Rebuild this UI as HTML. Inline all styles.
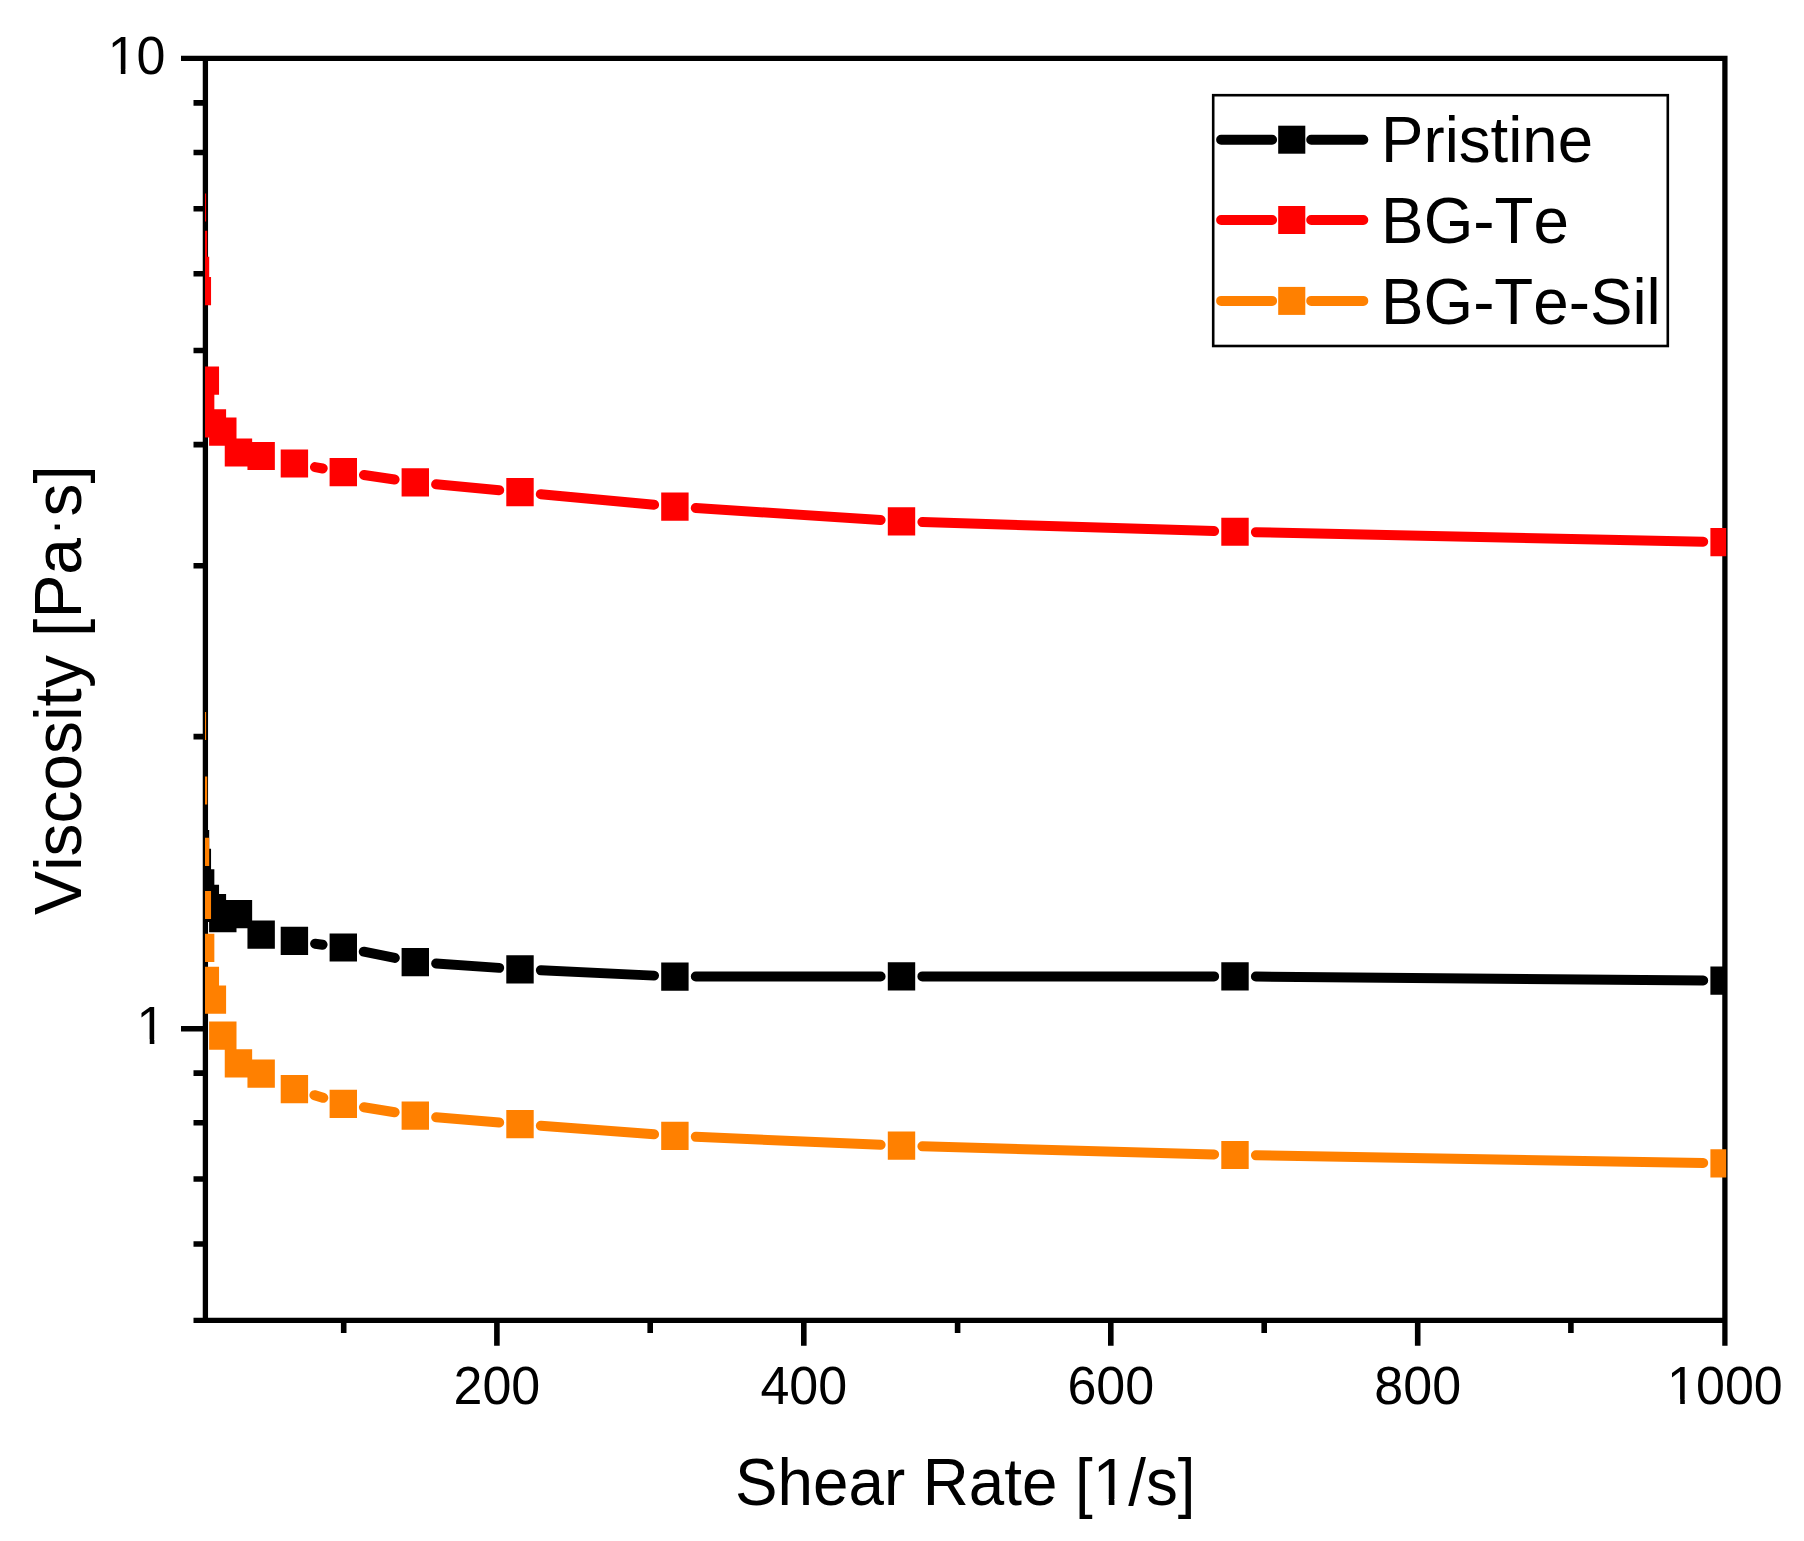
<!DOCTYPE html>
<html lang="en"><head><meta charset="utf-8"><title>Viscosity vs Shear Rate</title>
<style>html,body{margin:0;padding:0;background:#fff}svg{display:block}text{font-kerning:none;font-family:"Liberation Sans",sans-serif;fill:#000}</style></head><body>
<svg width="1804" height="1541" viewBox="0 0 1804 1541">
<rect width="1804" height="1541" fill="#fff"/>
<defs><clipPath id="c"><rect x="205" y="40" width="1521.2" height="1300"/></clipPath></defs>
<path d="M181 58.45H1724.90M1724.90 55.80V1345.7M205.40 58.45V1323.10M193.5 1320.45H1724.90" fill="none" stroke="#000" stroke-width="5.3"/>
<path d="M181.00 1028.70H205.40M193.50 102.89H205.40M193.50 152.52H205.40M193.50 208.79H205.40M193.50 273.74H205.40M193.50 350.56H205.40M193.50 444.58H205.40M193.50 565.80H205.40M193.50 736.64H205.40M193.50 1073.09H205.40M193.50 1122.72H205.40M193.50 1178.99H205.40M193.50 1243.94H205.40M496.90 1320.45V1345.70M803.80 1320.45V1345.70M1110.80 1320.45V1345.70M1417.70 1320.45V1345.70M343.70 1320.45V1333.00M650.20 1320.45V1333.00M957.60 1320.45V1333.00M1264.20 1320.45V1333.00M1570.90 1320.45V1333.00" fill="none" stroke="#000" stroke-width="5.6"/>
<g clip-path="url(#c)">
<path d="M315.11 943.70L322.59 944.70M363.78 951.65L394.82 957.95M436.15 963.53L499.15 967.87M540.88 970.28L654.02 975.62M695.80 976.58L880.60 976.42M922.40 976.40L1214.10 976.40M1255.90 976.58L1703.20 980.52" fill="none" stroke="#000" stroke-width="10" stroke-linecap="round"/>
<path d="M181.80 829.90h27.40v28.20h-27.40zM183.65 848.70h27.40v28.20h-27.40zM186.95 869.30h27.40v28.20h-27.40zM191.65 884.80h27.40v28.20h-27.40zM198.70 893.90h27.40v28.20h-27.40zM209.10 904.10h27.40v28.20h-27.40zM224.75 900.10h27.40v28.20h-27.40zM247.45 920.50h27.40v28.20h-27.40zM280.70 926.80h27.40v28.20h-27.40zM329.60 933.40h27.40v28.20h-27.40zM401.60 948.00h27.40v28.20h-27.40zM506.30 955.20h27.40v28.20h-27.40zM661.20 962.50h27.40v28.20h-27.40zM887.80 962.30h27.40v28.20h-27.40zM1221.30 962.30h27.40v28.20h-27.40zM1710.40 966.60h27.40v28.20h-27.40z" fill="#000"/>
<path d="M197.97 311.99L200.03 381.11M208.75 401.27L209.00 402.78M314.98 467.12L322.72 468.48M363.99 475.06L394.61 479.44M436.11 484.35L499.19 490.25M540.81 494.15L654.09 504.75M695.76 508.05L880.64 520.05M922.39 522.05L1214.11 531.10M1255.90 532.20L1703.20 541.75" fill="none" stroke="#ff0000" stroke-width="10" stroke-linecap="round"/>
<path d="M178.70 193.40h27.40v28.20h-27.40zM179.80 230.80h27.40v28.20h-27.40zM181.80 256.80h27.40v28.20h-27.40zM183.65 277.00h27.40v28.20h-27.40zM186.95 387.90h27.40v28.20h-27.40zM191.65 366.55h27.40v28.20h-27.40zM198.70 409.30h27.40v28.20h-27.40zM209.10 417.60h27.40v28.20h-27.40zM224.75 438.40h27.40v28.20h-27.40zM247.45 441.90h27.40v28.20h-27.40zM280.70 449.40h27.40v28.20h-27.40zM329.60 458.00h27.40v28.20h-27.40zM401.60 468.30h27.40v28.20h-27.40zM506.30 478.10h27.40v28.20h-27.40zM661.20 492.60h27.40v28.20h-27.40zM887.80 507.30h27.40v28.20h-27.40zM1221.30 517.65h27.40v28.20h-27.40zM1710.40 528.10h27.40v28.20h-27.40z" fill="#ff0000"/>
<path d="M192.76 746.90L193.14 769.60M194.18 811.39L194.82 831.01M196.23 872.79L196.62 884.11M198.96 925.84L199.04 926.96M314.40 1095.15L323.30 1097.85M363.93 1107.25L394.67 1112.25M436.13 1117.31L499.17 1122.49M540.84 1125.77L654.06 1134.33M695.78 1136.80L880.62 1144.80M922.39 1146.28L1214.11 1154.42M1255.90 1155.35L1703.20 1162.95" fill="none" stroke="#ff8000" stroke-width="10" stroke-linecap="round"/>
<path d="M178.70 711.90h27.40v28.20h-27.40zM179.80 776.40h27.40v28.20h-27.40zM181.80 837.80h27.40v28.20h-27.40zM183.65 890.90h27.40v28.20h-27.40zM186.95 933.70h27.40v28.20h-27.40zM191.65 966.80h27.40v28.20h-27.40zM198.70 985.60h27.40v28.20h-27.40zM209.10 1021.50h27.40v28.20h-27.40zM224.75 1049.30h27.40v28.20h-27.40zM247.45 1059.50h27.40v28.20h-27.40zM280.70 1075.00h27.40v28.20h-27.40zM329.60 1089.80h27.40v28.20h-27.40zM401.60 1101.50h27.40v28.20h-27.40zM506.30 1110.10h27.40v28.20h-27.40zM661.20 1121.80h27.40v28.20h-27.40zM887.80 1131.60h27.40v28.20h-27.40zM1221.30 1140.90h27.40v28.20h-27.40zM1710.40 1149.20h27.40v28.20h-27.40z" fill="#ff8000"/>
</g>
<g font-size="53.5">
<text x="165.5" y="74.4" text-anchor="end" textLength="57.84" lengthAdjust="spacingAndGlyphs">10</text>
<text x="165.5" y="1044.4" text-anchor="end" textLength="28.92" lengthAdjust="spacingAndGlyphs">1</text>
<text x="496.9" y="1404.3" text-anchor="middle" textLength="86.77" lengthAdjust="spacingAndGlyphs">200</text>
<text x="803.8" y="1404.3" text-anchor="middle" textLength="86.77" lengthAdjust="spacingAndGlyphs">400</text>
<text x="1110.8" y="1404.3" text-anchor="middle" textLength="86.77" lengthAdjust="spacingAndGlyphs">600</text>
<text x="1417.7" y="1404.3" text-anchor="middle" textLength="86.77" lengthAdjust="spacingAndGlyphs">800</text>
<text x="1724.9" y="1404.3" text-anchor="middle" textLength="115.69" lengthAdjust="spacingAndGlyphs">1000</text>
</g>
<path d="M110.50 69.43H120.83v6.12H110.50zM125.41 69.43H135.36v6.12H125.41z" fill="#fff"/>
<path d="M139.42 1039.43H149.75v6.12H139.42zM154.34 1039.43H164.28v6.12H154.34z" fill="#fff"/>
<path d="M1669.90 1399.33H1680.23v6.12H1669.90zM1684.81 1399.33H1694.76v6.12H1684.81z" fill="#fff"/>
<text x="965.3" y="1505.1" font-size="66" text-anchor="middle" textLength="460.5" lengthAdjust="spacingAndGlyphs">Shear Rate [1/s]</text>
<text transform="translate(81.2 690.1) rotate(-90)" font-size="66" text-anchor="middle" textLength="449.8" lengthAdjust="spacingAndGlyphs">Viscosity [Pa<tspan font-size="50" dx="2.8" dy="-10">·</tspan><tspan dx="2.2" dy="10">s]</tspan></text>
<path d="M1096.3 1499.05H1108.77v7.2H1096.3zM1114.41 1499.05H1126.4v7.2H1114.41z" fill="#fff"/>
<rect x="1213.2" y="95.2" width="454.6" height="250.8" fill="#fff" stroke="#000" stroke-width="2.6"/>
<path d="M1221.1 139.7H1272.1M1311.2 139.7H1363.3" stroke="#000" stroke-width="10" stroke-linecap="round"/>
<rect x="1278.2" y="125.7" width="27.1" height="28.0" fill="#000"/>
<text x="1381.1" y="161.9" font-size="65" textLength="211.9" lengthAdjust="spacingAndGlyphs">Pristine</text>
<path d="M1221.1 220.0H1272.1M1311.2 220.0H1363.3" stroke="#ff0000" stroke-width="10" stroke-linecap="round"/>
<rect x="1278.2" y="206.0" width="27.1" height="28.0" fill="#ff0000"/>
<text x="1381.1" y="242.9" font-size="65" textLength="187.9" lengthAdjust="spacingAndGlyphs">BG-Te</text>
<path d="M1221.1 300.9H1272.1M1311.2 300.9H1363.3" stroke="#ff8000" stroke-width="10" stroke-linecap="round"/>
<rect x="1278.2" y="286.9" width="27.1" height="28.0" fill="#ff8000"/>
<text x="1381.1" y="323.9" font-size="65" textLength="279.6" lengthAdjust="spacingAndGlyphs">BG-Te-Sil</text>
</svg></body></html>
